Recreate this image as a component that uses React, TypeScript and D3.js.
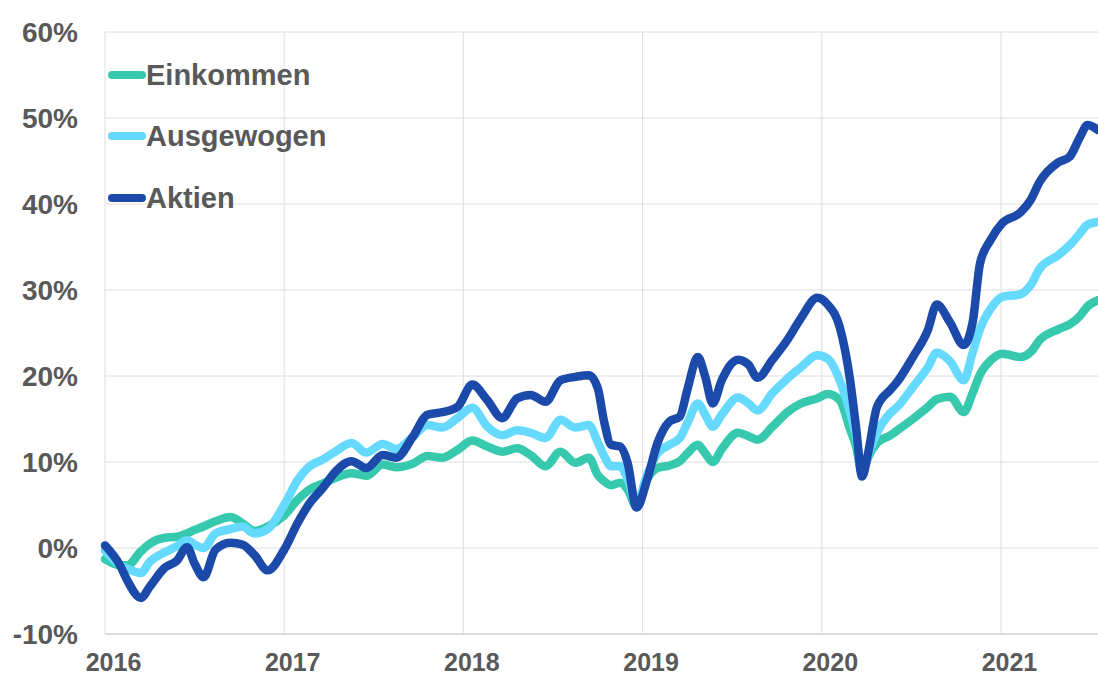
import React from "react";
import * as d3 from "d3";

// months since Jan 2016 (fractional)
const monthIndex = [
  0, 1, 1.5, 2.4, 3, 4, 4.8, 5.5, 6, 6.6, 7.4, 8.4, 9.2, 10, 10.9, 12, 12.9, 13.7, 14.6, 15.5,
  16.5, 17.5, 18.6, 19.5, 20.6, 21.6, 22.6, 23.6, 24.6, 25.6, 26.6, 27.6, 28.5, 29.5, 30.5, 31.5,
  32.4, 33, 33.4, 33.9, 34.5, 35, 35.6, 36.3, 37, 37.8, 38.5, 39, 39.7, 40.2, 40.7, 41.3, 42.4,
  43.1, 43.7, 44.7, 45.7, 46.6, 47.7, 48.4, 49.2, 49.9, 50.3, 50.7, 51.1, 51.7, 52.6, 53, 54.1,
  55.1, 55.7, 56.6, 57.5, 58.1, 58.6, 59.3, 60.1, 61.3, 62, 62.6, 63.8, 64.6, 65.3, 65.8, 66.5,
];

const aktien = [
  0.3, -2.0, -3.8, -5.8, -4.5, -2.3, -1.5, 0.1, -1.8, -3.4, -0.2, 0.6, 0.4, -0.8, -2.6, -0.2, 2.9, 5.2, 7.0, 9.0,
  10.1, 9.3, 10.8, 10.5, 12.9, 15.5, 15.8, 16.4, 19.0, 17.2, 15.1, 17.4, 17.8, 17.0, 19.5, 19.9,
  20.1, 18.6, 14.9, 12.0, 11.8, 9.9, 4.7, 7.9, 12.2, 14.7, 15.3, 18.4, 22.2, 19.9, 16.8, 19.5, 21.9,
  21.3, 19.8, 21.9, 24.2, 26.7, 29.1, 28.3, 25.7, 19.5, 14.0, 8.3, 11.0, 16.4, 18.4, 19.2, 22.2,
  25.3, 28.3, 26.2, 23.6, 26.2, 33.1, 35.8, 37.8, 39.0, 40.5, 42.6, 44.8, 45.5, 47.8, 49.2, 48.6,
];

const ausgewogen = [
  -0.3, -2.0, -2.4, -2.9, -1.6, -0.5, 0.2, 0.9, 0.4, 0.0, 1.7, 2.2, 2.5, 1.7, 2.2, 5.0, 7.9, 9.5, 10.3, 11.3,
  12.2, 11.1, 12.1, 11.5, 12.9, 14.3, 14.0, 15.1, 16.3, 14.1, 13.1, 13.7, 13.4, 12.8, 14.9, 14.0,
  14.3, 12.3, 10.8, 9.5, 9.5, 8.0, 5.2, 8.5, 11.0, 12.0, 12.8, 14.5, 16.8, 15.5, 14.1, 15.5, 17.5,
  16.8, 16.0, 18.0, 19.7, 21.0, 22.4, 22.0, 19.5, 15.7, 13.0, 8.8, 10.8, 13.4, 15.7, 16.3, 18.7,
  21.0, 22.7, 21.7, 19.5, 22.7, 25.5, 27.8, 29.2, 29.5, 30.6, 32.5, 34.0, 35.2, 36.6, 37.6, 37.9,
];

const einkommen = [
  -1.3, -2.0, -2.0, -0.4, 0.5, 1.2, 1.3, 1.7, 2.1, 2.5, 3.1, 3.6, 2.9, 2.0, 2.5, 3.8, 5.6, 6.8, 7.5, 8.2,
  8.7, 8.4, 9.7, 9.4, 9.8, 10.7, 10.5, 11.4, 12.5, 11.8, 11.2, 11.6, 10.8, 9.5, 11.2, 9.9,
  10.5, 8.5, 7.8, 7.3, 7.6, 6.8, 4.8, 8.0, 9.3, 9.6, 10.1, 11.0, 12.0, 11.0, 10.0, 11.5, 13.4,
  13.0, 12.6, 14.1, 15.8, 16.8, 17.4, 17.9, 17.2, 13.8, 11.8, 8.7, 10.5, 12.2, 13.1, 13.6, 15.0,
  16.4, 17.3, 17.6, 15.8, 18.0, 20.2, 21.8, 22.6, 22.2, 22.8, 24.2, 25.4, 26.0, 27.0, 28.1, 28.8,
];

const seriesNames = ["Einkommen", "Ausgewogen", "Aktien"];
const seriesColors = ["#36C9AE", "#66D9FF", "#1B4AAB"];
const yearTicks = [0, 12, 24, 36, 48, 60];
const yearLabels = ["2016", "2017", "2018", "2019", "2020", "2021"];
const yTicks = [-10, 0, 10, 20, 30, 40, 50, 60];

export default function App() {
  const W = 1098;
  const H = 677;
  const left = 105;
  const right = 1098;
  const top = 32;
  const bottom = 634;

  const x = d3.scaleLinear().domain([0, 66.5]).range([left, right]);
  const y = d3.scaleLinear().domain([-10, 60]).range([bottom, top]);

  const data = [einkommen, ausgewogen, aktien];
  const line = d3
    .line<number>()
    .x((_, i) => x(monthIndex[i]))
    .y((v) => y(v))
    .curve(d3.curveMonotoneX);

  const font = "'Liberation Sans', Arial, sans-serif";
  const textColor = "#595959";

  return (
    <svg
      width={W}
      height={H}
      style={{ position: "absolute", left: 0, top: 0, background: "#fff" }}
    >
      <defs>
        <clipPath id="plot">
          <rect x={left - 10} y={0} width={right - left + 10} height={H} />
        </clipPath>
      </defs>
      {/* horizontal grid */}
      {yTicks.map((t) => (
        <line
          key={"h" + t}
          x1={left}
          x2={right}
          y1={y(t)}
          y2={y(t)}
          stroke={t === -10 ? "#d0d0d0" : "#dedede"}
          strokeWidth={t === -10 ? 1.5 : 1}
        />
      ))}
      {/* vertical grid */}
      {yearTicks.map((t) => (
        <line
          key={"v" + t}
          x1={x(t)}
          x2={x(t)}
          y1={top}
          y2={bottom}
          stroke="#dedede"
          strokeWidth={1}
        />
      ))}
      {/* y labels */}
      {yTicks.map((t) => (
        <text
          key={"yl" + t}
          x={78}
          y={y(t)}
          dy="0.36em"
          textAnchor="end"
          fontFamily={font}
          fontWeight="bold"
          fontSize={28}
          fill={textColor}
        >
          {t + "%"}
        </text>
      ))}
      {/* x labels */}
      {yearTicks.map((t, i) => (
        <text
          key={"xl" + t}
          x={x(t) + 8.5}
          y={671}
          textAnchor="middle"
          fontFamily={font}
          fontWeight="bold"
          fontSize={25}
          fill={textColor}
        >
          {yearLabels[i]}
        </text>
      ))}
      {/* lines */}
      <g clipPath="url(#plot)">
        {data.map((d, i) => (
          <path
            key={seriesNames[i]}
            d={line(d) || ""}
            fill="none"
            stroke={seriesColors[i]}
            strokeWidth={8.5}
            strokeLinejoin="round"
            strokeLinecap="round"
          />
        ))}
      </g>
      {/* legend */}
      {seriesNames.map((n, i) => {
        const ly = [75, 136, 198][i];
        return (
          <g key={"lg" + n}>
            <line
              x1={112}
              x2={142}
              y1={ly}
              y2={ly}
              stroke={seriesColors[i]}
              strokeWidth={8}
              strokeLinecap="round"
            />
            <text
              x={146}
              y={ly}
              dy="0.36em"
              fontFamily={font}
              fontWeight="bold"
              fontSize={29}
              fill={textColor}
            >
              {n}
            </text>
          </g>
        );
      })}
    </svg>
  );
}
